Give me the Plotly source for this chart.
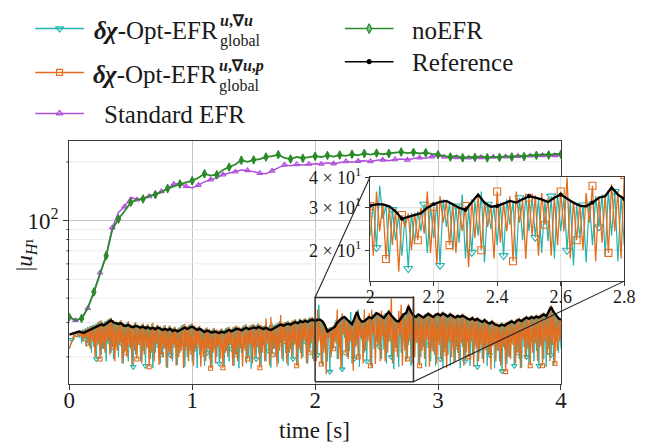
import numpy as np
import plotly.graph_objects as go

# ---------------- data ----------------
# Reference solution, sampled every 0.02 s (t = 0 ... 4)
ref_vals = [
    26.0, 26.2, 26.5, 26.8, 27.0, 26.7, 26.6, 27.0, 27.4, 27.8,
    28.0, 28.5, 29.0, 29.3, 29.0, 29.6, 30.2, 30.8, 30.0, 29.8,
    29.5, 29.8, 29.0, 28.8, 29.2, 28.6, 28.4, 28.9, 28.5, 28.2,
    28.6, 28.0, 28.4, 27.8, 28.2, 27.7, 28.3, 28.0, 27.5, 27.8,
    27.4, 27.9, 27.1, 27.5, 27.0, 27.4, 27.9, 28.3, 27.8, 28.2,
    28.6, 28.0, 27.5, 27.9, 27.2, 26.8, 27.3, 27.0, 26.6, 27.0,
    26.7, 26.5, 26.9, 26.6, 27.1, 27.5, 27.0, 27.4, 27.9, 27.7,
    27.3, 27.8, 28.2, 27.7, 28.0, 28.3, 28.0, 28.5, 28.1, 27.8,
    28.2, 27.7, 27.5, 28.0, 28.4, 28.8, 29.3, 28.9, 29.2, 29.6,
    29.2, 29.8, 30.2, 29.7, 30.5, 30.1, 30.6, 30.2, 30.8, 31.0,
    30.6, 31.0, 31.0, 30.4, 29.0, 27.0, 27.5, 28.0, 28.5, 30.0,
    31.0, 31.7, 32.0, 31.0, 30.0, 29.4, 31.5, 34.0, 31.5, 30.3,
    30.5, 31.3, 32.0, 31.5, 32.6, 33.5, 33.0, 32.5, 31.7, 33.0,
    34.0, 32.6, 31.5, 30.6, 30.4, 31.5, 33.0, 33.5, 36.4, 34.0,
    32.6, 32.0, 33.0, 32.4, 31.8, 32.5, 33.2, 32.6, 32.0, 32.8,
    33.2, 32.6, 33.4, 32.8, 32.2, 33.0, 32.5, 31.8, 32.4, 32.0,
    32.6, 31.9, 31.4, 31.0, 31.6, 30.8, 31.3, 30.6, 30.2, 30.8,
    30.0, 29.6, 30.2, 29.4, 29.0, 28.8, 29.3, 28.9, 29.5, 29.9,
    30.4, 29.8, 30.6, 31.0, 30.5, 31.2, 31.8, 31.3, 32.0, 31.6,
    32.2, 31.8, 32.5, 33.0, 32.4, 34.5, 36.0, 34.0, 32.5, 31.5,
    31.0,
]

# delta-chi-Opt-EFR (u, grad u, p): orange, sampled every 0.01 s
# values at t = 0.00, 0.02, ... 4.00
orange_even = [
    22.0, 24.0, 25.5, 26.2, 26.8, 27.2, 27.6, 27.9, 28.4, 28.8,
    29.0, 29.6, 30.4, 30.8, 29.9, 30.6, 31.2, 31.8, 30.9, 30.4,
    30.1, 30.9, 29.8, 29.6, 30.5, 29.4, 29.1, 30.2, 29.3, 29.0,
    29.7, 28.9, 29.5, 28.6, 29.9, 28.5, 29.3, 28.8, 28.3, 29.1,
    28.2, 29.0, 28.0, 28.6, 27.9, 28.4, 29.2, 29.6, 28.7, 29.3,
    29.8, 29.0, 28.4, 28.9, 28.0, 27.7, 28.4, 27.9, 27.5, 28.2,
    27.6, 27.4, 28.0, 27.5, 28.2, 28.6, 27.9, 28.5, 29.0, 28.6,
    28.3, 29.0, 29.4, 28.6, 29.2, 29.5, 29.1, 29.7, 29.2, 28.8,
    31.5, 28.6, 32.0, 29.0, 29.4, 29.9, 32.8, 30.0, 30.2, 30.6,
    30.2, 30.8, 31.2, 30.6, 31.5, 31.0, 31.6, 31.2, 31.9, 32.0,
    30.5, 35.0, 31.2, 30.0, 29.5, 28.0, 28.4, 28.6, 30.0, 35.0,
    30.2, 33.5, 32.0, 31.0, 30.5, 30.5, 32.5, 33.8, 31.5, 30.8,
    35.0, 31.5, 33.5, 35.0, 32.0, 33.0, 33.8, 34.5, 33.0, 33.5,
    35.0, 40.0, 32.0, 31.0, 34.5, 37.0, 33.5, 34.0, 37.5, 35.0,
    41.0, 32.8, 33.6, 33.0, 32.6, 33.2, 34.0, 33.4, 32.8, 33.6,
    34.0, 33.4, 34.2, 33.6, 33.0, 33.8, 33.2, 32.6, 33.2, 32.8,
    33.4, 32.6, 32.2, 31.8, 32.4, 31.6, 32.0, 31.4, 31.0, 31.6,
    30.8, 30.4, 31.0, 30.2, 29.8, 29.6, 30.1, 29.7, 30.3, 30.7,
    31.2, 30.6, 31.4, 31.8, 31.3, 32.0, 32.6, 32.1, 32.8, 32.4,
    33.0, 32.6, 33.3, 33.8, 33.2, 35.3, 36.8, 34.8, 33.3, 32.3,
    31.5,
]
# values at t = 0.01, 0.03, ... 3.99
orange_odd = [
    23.0, 25.0, 26.0, 26.5, 25.5, 24.0, 25.0, 23.5, 22.0, 24.0,
    20.0, 23.0, 19.5, 22.0, 21.0, 24.0, 20.5, 22.5, 19.0, 21.5,
    23.0, 18.5, 21.0, 20.0, 22.5, 18.0, 21.5, 19.5, 23.0, 18.5,
    20.5, 22.0, 17.8, 21.0, 19.0, 23.5, 18.2, 20.5, 22.0, 17.6,
    21.0, 19.5, 23.0, 18.0, 20.0, 21.5, 17.5, 22.5, 19.0, 20.5,
    18.0, 21.5, 23.0, 17.8, 20.0, 19.0, 22.0, 17.5, 21.0, 18.5,
    22.5, 19.5, 17.6, 21.0, 20.0, 23.0, 18.0, 20.5, 19.0, 22.0,
    17.8, 21.5, 19.5, 23.0, 18.5, 20.0, 22.5, 17.6, 21.0, 19.0,
    23.5, 18.0, 20.5, 22.0, 17.8, 21.5, 19.5, 24.0, 18.5, 21.0,
    20.0, 23.0, 18.0, 22.0, 19.5, 24.5, 18.5, 21.0, 23.5, 19.0,
    19.0, 24.0, 18.4, 21.0, 16.3, 25.0, 20.0, 22.0, 23.4, 19.5,
    17.5, 26.0, 21.0, 19.5, 24.0, 17.0, 22.5, 20.0, 25.0, 18.5,
    21.5, 24.0, 18.0, 26.0, 18.4, 23.0, 19.0, 25.5, 19.0, 21.0,
    24.0, 18.5, 22.0, 20.0, 26.0, 18.0, 21.5, 19.5, 24.0, 18.5,
    20.0, 23.5, 18.0, 21.5, 19.5, 24.5, 17.8, 22.0, 20.5, 18.5,
    23.0, 19.0, 21.0, 17.5, 24.0, 20.0, 18.5, 22.5, 19.5, 23.5,
    18.0, 21.0, 20.0, 24.0, 17.8, 22.0, 19.0, 23.0, 18.5, 21.5,
    20.5, 17.2, 23.5, 19.0, 21.5, 18.0, 22.5, 16.8, 20.0, 19.5,
    23.0, 18.5, 21.0, 17.5, 24.5, 19.5, 22.0, 18.0, 21.0, 23.5,
    19.0, 22.5, 18.0, 24.0, 20.5, 19.0, 23.0, 18.5, 21.5, 24.0,
]

# delta-chi-Opt-EFR (u, grad u): teal, sampled every 0.01 s
# values at t = 0.00, 0.02, ... 4.00
teal_even = [
    22.0, 24.5, 25.8, 26.4, 25.0, 23.5, 24.8, 22.5, 23.0, 21.0,
    22.5, 19.5, 23.5, 20.5, 22.0, 19.0, 24.0, 21.0, 19.5, 22.5,
    20.0, 23.5, 18.5, 21.5, 19.0, 22.0, 17.8, 20.5, 23.0, 19.0,
    21.5, 18.0, 22.5, 19.5, 17.5, 21.0, 23.0, 18.5, 20.0, 22.0,
    17.6, 20.5, 19.0, 22.5, 18.2, 21.0, 23.5, 17.8, 20.0, 21.5,
    19.0, 22.0, 17.5, 20.5, 23.0, 18.0, 21.0, 19.5, 17.6, 22.0,
    20.0, 18.5, 23.0, 17.8, 21.5, 19.0, 22.0, 18.0, 20.5, 17.5,
    21.0, 23.0, 18.5, 20.0, 17.4, 22.5, 19.5, 21.0, 18.0, 23.0,
    19.0, 21.5, 17.6, 22.0, 20.0, 18.5, 23.5, 19.0, 21.0, 18.0,
    22.0, 19.5, 23.5, 18.0, 21.0, 20.0, 24.0, 18.5, 22.0, 19.5,
    23.0, 20.5, 27.0, 18.0, 22.0, 19.0, 16.8, 21.5, 24.0, 19.5,
    22.5, 17.3, 25.0, 20.0, 21.5, 18.5, 19.6, 23.0, 17.8, 24.5,
    21.0, 19.0, 25.5, 17.8, 22.0, 24.0, 22.6, 19.5, 21.8, 18.5,
    24.0, 20.0, 17.3, 22.5, 17.8, 21.0, 25.0, 19.0, 23.0, 18.0,
    21.0, 24.5, 18.5, 20.0, 22.5, 17.8, 23.0, 19.0, 21.5, 18.0,
    24.0, 19.5, 17.6, 22.0, 20.5, 18.0, 23.5, 19.0, 21.0, 17.5,
    22.5, 19.0, 24.0, 18.0, 20.5, 23.0, 17.8, 21.0, 19.5, 22.0,
    18.0, 20.5, 23.0, 17.5, 21.5, 19.0, 16.9, 22.0, 18.5, 20.0,
    23.5, 18.0, 21.0, 19.5, 17.6, 22.5, 20.0, 18.5, 24.0, 19.0,
    21.5, 18.0, 23.0, 19.5, 17.8, 22.0, 20.5, 18.0, 24.0, 21.0,
    22.0,
]
# values at t = 0.01, 0.03, ... 3.99
teal_odd = [
    23.2, 25.2, 26.3, 26.9, 27.3, 27.7, 28.0, 28.5, 28.9, 29.2,
    29.4, 30.0, 30.6, 30.2, 30.4, 31.0, 31.5, 30.6, 30.2, 29.9,
    30.4, 29.7, 29.4, 30.0, 29.2, 29.0, 29.8, 29.1, 28.8, 29.4,
    28.7, 29.2, 28.5, 29.5, 28.4, 29.0, 28.6, 28.2, 28.9, 28.1,
    28.7, 27.9, 28.3, 27.8, 28.2, 28.9, 29.3, 28.6, 29.0, 29.5,
    28.8, 28.2, 28.6, 27.9, 27.6, 28.1, 27.7, 27.4, 28.0, 27.5,
    27.3, 27.8, 27.4, 28.0, 28.3, 27.8, 28.3, 28.8, 28.4, 28.1,
    28.8, 29.2, 28.5, 29.0, 29.3, 28.9, 29.5, 29.0, 28.7, 29.0,
    28.5, 29.2, 29.6, 29.2, 29.7, 30.5, 29.8, 30.0, 30.4, 30.0,
    30.6, 31.0, 30.4, 31.2, 30.8, 31.4, 31.0, 31.7, 31.8, 31.2,
    31.5, 37.0, 30.8, 29.5, 28.2, 28.0, 28.5, 29.0, 31.0, 30.6,
    31.8, 32.5, 31.5, 30.5, 34.0, 30.0, 32.0, 35.0, 31.0, 30.5,
    31.5, 32.5, 31.8, 33.0, 34.0, 33.2, 32.6, 32.0, 33.5, 34.2,
    33.0, 32.0, 31.0, 30.8, 32.0, 33.5, 34.0, 35.5, 35.0, 33.5,
    32.4, 33.2, 32.8, 32.2, 33.0, 33.6, 33.0, 32.4, 33.2, 33.6,
    33.0, 33.8, 33.2, 32.6, 33.4, 32.8, 32.2, 32.8, 32.4, 33.0,
    32.2, 31.8, 31.4, 32.0, 31.2, 31.6, 31.0, 30.6, 31.2, 30.4,
    30.0, 30.6, 29.8, 29.4, 29.2, 29.7, 29.3, 29.9, 30.3, 30.8,
    30.2, 31.0, 31.4, 30.9, 31.6, 32.2, 31.7, 32.4, 32.0, 32.6,
    32.2, 32.9, 33.4, 32.8, 34.0, 36.2, 34.4, 32.9, 31.9, 31.2,
]

# noEFR (green) and Standard EFR (purple), sampled every 0.05 s
noefr_vals = [
    32.0, 30.8, 31.5, 35.5, 43.0, 54.0, 66.0, 90.0, 102.0, 112.0,
    124, 128, 129, 134, 136, 140, 146, 150, 154, 157,
    160, 166, 174, 170, 172, 182, 188, 194, 204, 200,
    205, 207, 212, 214, 218, 210, 207, 212, 209, 211,
    214, 212, 216, 213, 217, 215, 219, 216, 221, 218,
    222, 219, 221, 223, 225, 222, 224, 221, 223, 220,
    218, 214, 212, 215, 210, 212, 211, 214, 210, 213,
    211, 214, 212, 216, 213, 217, 216, 219, 217, 220,
    219,
]
std_vals = [
    32.0, 30.8, 31.5, 35.5, 43.0, 54.0, 66.0, 92.0, 110.0, 118.0,
    132, 128, 130, 133, 137, 141, 146, 154, 155, 150,
    147, 152, 158, 162, 166, 172, 175, 178, 182, 181,
    178, 175, 174, 180, 186, 193, 191, 194, 193, 195,
    196, 195, 198, 196, 198, 201, 199, 202, 203, 201,
    204, 205, 203, 206, 207, 205, 208, 210, 209, 213,
    215, 212, 210, 211, 208, 210, 209, 211, 210, 212,
    211, 213, 211, 214, 213, 215, 214, 216, 214, 216,
    215,
]

x_ticks = [0, 1, 2, 3, 4]
inset_x_ticks = [2.0, 2.2, 2.4, 2.6, 2.8]
inset_x_text = ["2", "2.2", "2.4", "2.6", "2.8"]
inset_y_ticks = [20, 30, 40]
inset_y_text = ["2 × 10<sup>1</sup>", "3 × 10<sup>1</sup>", "4 × 10<sup>1</sup>"]
main_y_minor = [20, 30, 40, 50, 60, 70, 80, 90, 200]

assert len(ref_vals) == 201 and len(orange_even) == 201 and len(teal_even) == 201
assert len(orange_odd) == 200 and len(teal_odd) == 200
assert len(noefr_vals) == 81 and len(std_vals) == 81

# time grids
t_fine = [round(i * 0.01, 2) for i in range(401)]
t_ref = [round(i * 0.02, 2) for i in range(201)]
t_coarse = [round(i * 0.05, 2) for i in range(81)]

orange = [0.0] * 401
orange[0::2] = orange_even
orange[1::2] = orange_odd
teal = [0.0] * 401
teal[0::2] = teal_even
teal[1::2] = teal_odd

# ---------------- style / layout constants ----------------
W, H = 645, 443
C_TEAL = "#1fb5b0"
C_ORANGE = "#e46c1c"
C_PURPLE = "#b04fdc"
C_GREEN = "#2a8a2a"
C_BLACK = "#000000"
FONT = "Liberation Serif"

def px2x(px):
    return px / W

def py2y(py):
    return 1 - py / H

# main axes box in pixels
M_L, M_R, M_T, M_B = 65, 570, 133, 382
# inset axes box in pixels
I_L, I_R, I_T, I_B = 374, 635, 170, 277

main_xr = [0, 4]
main_yr = [float(np.log10(14.6)), float(np.log10(257))]
ins_xr = [2.0, 2.8]
ins_lo, ins_hi = 14.9, 40.3
ins_yr = [float(np.log10(ins_lo)), float(np.log10(ins_hi))]

fig = go.Figure()

def line_trace(xa, ya, x, y, color, width):
    fig.add_trace(go.Scatter(x=x, y=y, mode="lines", xaxis=xa, yaxis=ya,
                             line=dict(color=color, width=width), showlegend=False,
                             hoverinfo="skip"))

def add_series(xa, ya, x, y, color, width, msym, msize, mstep, moff, mfill=None):
    line_trace(xa, ya, x, y, color, width)
    if msize > 0:
        fig.add_trace(go.Scatter(x=x[moff::mstep], y=y[moff::mstep], mode="markers",
                                 xaxis=xa, yaxis=ya, showlegend=False, hoverinfo="skip",
                                 marker=dict(symbol=msym, size=msize,
                                             color=mfill if mfill else color,
                                             line=dict(color=color, width=1.1))))

GRID_MINOR = "#ebebeb"
GRID_INSET = "#dedede"
for xa, ya in (("x", "y"), ("x2", "y2")):
    main = xa == "x"
    if main:
        # minor horizontal gridlines of the main axes
        for gy in main_y_minor:
            line_trace(xa, ya, main_xr, [gy, gy], GRID_MINOR, 1)
    else:
        # white backing of the inset (hides the main curves behind it)
        fig.add_trace(go.Scatter(x=[ins_xr[0], ins_xr[1], ins_xr[1], ins_xr[0], ins_xr[0]],
                                 y=[ins_lo, ins_lo, ins_hi, ins_hi, ins_lo],
                                 mode="lines", fill="toself", fillcolor="white",
                                 line=dict(width=0, color="white"),
                                 xaxis=xa, yaxis=ya, showlegend=False, hoverinfo="skip"))
        for gx in inset_x_ticks[1:-1]:
            line_trace(xa, ya, [gx, gx], [ins_lo, ins_hi], GRID_INSET, 1)
        for gy in inset_y_ticks[:-1]:
            line_trace(xa, ya, ins_xr, [gy, gy], GRID_INSET, 1)
    add_series(xa, ya, t_fine, teal, C_TEAL, 1.0 if main else 1.2,
               "triangle-down-open", 5 if main else 8, 10 if main else 5, 2)
    add_series(xa, ya, t_fine, orange, C_ORANGE, 1.3,
               "square-open", 4 if main else 7, 10 if main else 5, 5 if main else 0)
    add_series(xa, ya, t_coarse, std_vals, C_PURPLE, 1.5,
               "triangle-up-open", 5, 2, 1)
    add_series(xa, ya, t_coarse, noefr_vals, C_GREEN, 1.8,
               "diamond-tall", 6, 2, 0)
    add_series(xa, ya, t_ref, ref_vals, C_BLACK, 2.3,
               "circle", 0 if main else 3, 5, 0)
    if main:
        # zoom rectangle on main axes
        line_trace("x", "y", [2.0, 2.8, 2.8, 2.0, 2.0],
                   [ins_lo, ins_lo, ins_hi, ins_hi, ins_lo], "#333333", 1.5)

# ---------------- legend (drawn by hand on an overlay axis) ----------------
leg = [
    (30, 80, 18, C_TEAL, "triangle-down-open", 7, None),
    (30, 80, 63, C_ORANGE, "square-open", 6, None),
    (30, 80, 105, C_PURPLE, "triangle-up-open", 6, None),
    (348, 398, 18, C_GREEN, "diamond-tall", 7, "#7fbf7f"),
    (348, 398, 52, C_BLACK, "circle", 4, None),
]
for x0, x1, yy, col, sym, sz, fill in leg:
    line_trace("x3", "y3", [x0, x1], [yy, yy], col, 1.5)
    fig.add_trace(go.Scatter(x=[(x0 + x1) / 2], y=[yy], mode="markers", xaxis="x3", yaxis="y3",
                             marker=dict(symbol=sym, size=sz, color=fill if fill else col,
                                         line=dict(color=col, width=1.2)),
                             showlegend=False, hoverinfo="skip"))

ann = []
def txt(px, py, s, size, xanchor="left", yanchor="middle", angle=0):
    ann.append(dict(x=px2x(px), y=py2y(py), xref="paper", yref="paper", text=s,
                    showarrow=False, xanchor=xanchor, yanchor=yanchor, textangle=angle,
                    font=dict(family=FONT, size=size, color="#1a1a1a")))

LEG_FS = 25
SUB_FS = 16
txt(88, 20, "<b><i>δχ</i></b>-Opt-EFR", LEG_FS)
txt(218, 10, "<b><i>u</i>,∇<i>u</i></b>", SUB_FS)
txt(218, 31, "global", SUB_FS)
txt(87, 65, "<b><i>δχ</i></b>-Opt-EFR", LEG_FS)
txt(217, 56, "<b><i>u</i>,∇<i>u</i>,<i>p</i></b>", SUB_FS)
txt(217, 77, "global", SUB_FS)
txt(99, 106, "Standard EFR", LEG_FS)
txt(415, 20, "noEFR", LEG_FS)
txt(415, 53, "Reference", LEG_FS)

# axis titles
txt(317, 430, "time [s]", 23, xanchor="center")
txt(20, 250, "|<i>u</i><sub><i>H</i>¹</sub>", 23, xanchor="center", angle=-90)

# ---------------- connector lines ----------------
def mx(v):
    return px2x(M_L) + (v - main_xr[0]) / (main_xr[1] - main_xr[0]) * (px2x(M_R) - px2x(M_L))

def my(v):
    return py2y(M_B) + (float(np.log10(v)) - main_yr[0]) / (main_yr[1] - main_yr[0]) * (py2y(M_T) - py2y(M_B))

shapes = [
    dict(type="line", xref="paper", yref="paper", x0=mx(2.0), y0=my(ins_hi),
         x1=px2x(I_L), y1=py2y(I_T), line=dict(color="#222222", width=1.1), layer="above"),
    dict(type="line", xref="paper", yref="paper", x0=mx(2.8), y0=my(ins_lo),
         x1=px2x(I_R), y1=py2y(I_B), line=dict(color="#222222", width=1.1), layer="above"),
]
# minor tick marks on the main y axis
for gy in main_y_minor:
    shapes.append(dict(type="line", xref="paper", yref="paper", x0=px2x(M_L - 3), x1=px2x(M_L),
                       y0=my(gy), y1=my(gy), line=dict(color="#3a3a3a", width=1)))

AX_LINE = "#3a3a3a"
fig.update_layout(
    width=W, height=H, autosize=False,
    margin=dict(l=0, r=0, t=0, b=0),
    paper_bgcolor="white", plot_bgcolor="rgba(0,0,0,0)",
    showlegend=False,
    font=dict(family=FONT, size=23, color="#1a1a1a"),
    annotations=ann, shapes=shapes,
    xaxis=dict(domain=[px2x(M_L), px2x(M_R)], range=main_xr, anchor="y",
               tickmode="array", tickvals=x_ticks, ticktext=[str(v) for v in x_ticks],
               showgrid=True, gridcolor="#c4c4c4", gridwidth=1,
               showline=True, linecolor=AX_LINE, linewidth=1.3, mirror=True,
               ticks="outside", ticklen=5, tickcolor=AX_LINE, zeroline=False,
               ticklabelstandoff=-9,
               tickfont=dict(family=FONT, size=23)),
    yaxis=dict(domain=[py2y(M_B), py2y(M_T)], type="log", range=main_yr, anchor="x",
               tickmode="array", tickvals=[100], ticktext=["10<sup>2</sup>"],
               showgrid=True, gridcolor="#c4c4c4", gridwidth=1,
               showline=True, linecolor=AX_LINE, linewidth=1.3, mirror=True,
               ticks="outside", ticklen=5, tickcolor=AX_LINE, zeroline=False,
               tickfont=dict(family=FONT, size=23)),
    xaxis2=dict(domain=[px2x(I_L), px2x(I_R)], range=ins_xr, anchor="y2",
                tickmode="array", tickvals=inset_x_ticks, ticktext=inset_x_text,
                showgrid=False,
                showline=True, linecolor=AX_LINE, linewidth=1.3, mirror=True,
                ticks="outside", ticklen=4, tickcolor=AX_LINE, zeroline=False,
                ticklabelstandoff=-5,
                tickfont=dict(family=FONT, size=18)),
    yaxis2=dict(domain=[py2y(I_B), py2y(I_T)], type="log", range=ins_yr, anchor="x2",
                tickmode="array", tickvals=inset_y_ticks, ticktext=inset_y_text,
                showgrid=False,
                showline=True, linecolor=AX_LINE, linewidth=1.3, mirror=True,
                ticks="outside", ticklen=4, tickcolor=AX_LINE, zeroline=False,
                tickfont=dict(family=FONT, size=18)),
    xaxis3=dict(domain=[0, 1], range=[0, W], anchor="y3", visible=False, fixedrange=True),
    yaxis3=dict(domain=[0, 1], range=[H, 0], anchor="x3", visible=False, fixedrange=True),
)

fig.write_html("out.html", post_script="document.body.style.margin='0px';")
